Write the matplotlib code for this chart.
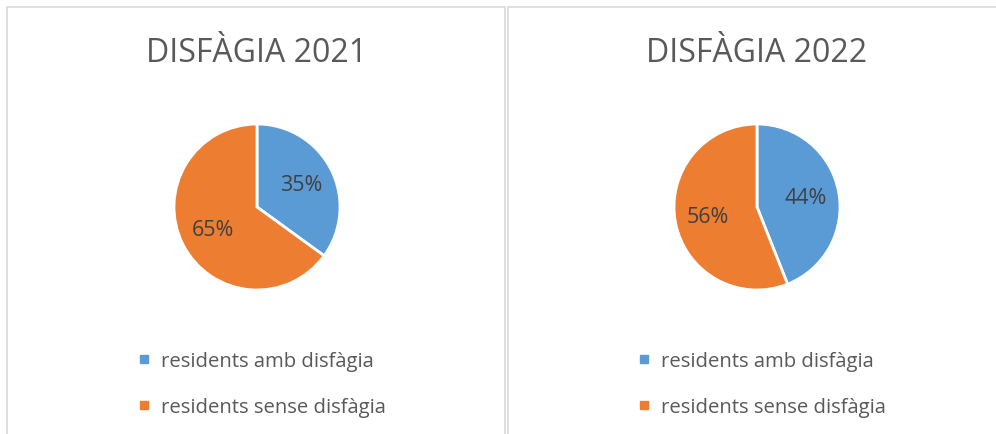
import matplotlib
matplotlib.use('Agg')

import matplotlib.pyplot as plt
from matplotlib.lines import Line2D
from matplotlib.patches import Rectangle

# -----------------------------
# Data
# -----------------------------
titles = ['DISFÀGIA 2021', 'DISFÀGIA 2022']
categories = ['residents amb disfàgia', 'residents sense disfàgia']
values_2021 = [35, 65]
values_2022 = [44, 56]
colors = ['#5B9BD5', '#ED7D31']

W, H = 996, 435
plt.rcParams['font.family'] = ['Open Sans', 'DejaVu Sans']

fig = plt.figure(figsize=(W / 100, H / 100), dpi=100)
fig.patch.set_facecolor('white')

# panel borders (pixel coords, top-left origin)
for x0, x1 in [(7, 505), (508, 1000)]:
    fig.patches.append(Rectangle((x0 / W, -0.05), (x1 - x0) / W, (H - 8) / H + 0.05,
                                 transform=fig.transFigure, fill=False,
                                 edgecolor='#D9D9D9', linewidth=1.2))


def px_axes(cx, cy, r):
    return fig.add_axes([(cx - r) / W, (H - cy - r) / H, 2 * r / W, 2 * r / H])


for k, (title, vals) in enumerate(zip(titles, [values_2021, values_2022])):
    cx = 257 + 500 * k
    ax = px_axes(cx, 208, 83)
    wedges, texts, autotexts = ax.pie(
        vals, colors=colors, startangle=90, counterclock=False,
        autopct='%d%%', pctdistance=0.6,
        wedgeprops=dict(edgecolor='white', linewidth=2),
        textprops=dict(color='#404040', fontsize=15.5))
    ax.set_xlim(-1, 1)
    ax.set_ylim(-1, 1)
    ax.set_aspect('equal')

    fig.text(cx / W, (H - 53) / H, title, ha='center', va='center',
             fontsize=23, color='#595959')

    handles = [Line2D([], [], marker='s', linestyle='none', markersize=5.5,
                      markerfacecolor=c, markeredgecolor=c) for c in colors]
    fig.legend(handles, categories, loc='upper left',
               bbox_to_anchor=((128 + 500 * k) / W, (H - 342) / H),
               bbox_transform=fig.transFigure, frameon=False,
               fontsize=14.6, labelcolor='#595959', handlelength=0.6,
               handletextpad=0.55, labelspacing=1.3, borderpad=0)

fig.savefig('out.png', dpi=100)
